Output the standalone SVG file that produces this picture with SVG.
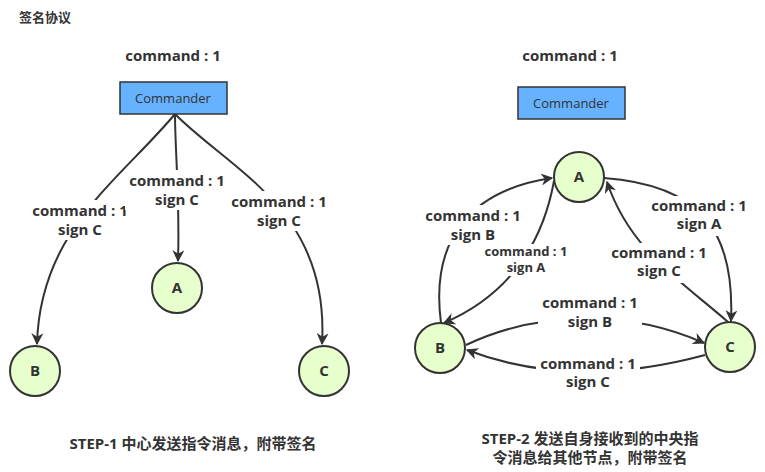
<svg xmlns="http://www.w3.org/2000/svg" width="765" height="472" viewBox="0 0 765 472">
<style>
text{font-family:"Open Sans","Liberation Sans","Noto Sans CJK SC",sans-serif;font-weight:bold;fill:#333;font-size:15px;text-anchor:middle}
.n circle{fill:#e6ffcc;stroke:#333;stroke-width:2}
.box{fill:#66b2ff;stroke:#333;stroke-width:1.5}
.e path{fill:none;stroke:#333;stroke-width:2;marker-end:url(#ar)}
.lb{fill:#fff;stroke:none}
.s{font-size:13px}
</style>
<defs><marker id="ar" viewBox="0 0 10 10" refX="9" refY="5" markerWidth="6" markerHeight="6" orient="auto"><path d="M0,0L10,5L0,10L3,5z" fill="#333"/></marker></defs>
<rect width="765" height="472" fill="#fff"/>
<text x="45" y="22" text-anchor="middle" style="font-size:13px">签名协议</text>
<text x="173" y="61">command : 1</text>
<text x="570" y="61">command : 1</text>
<g class="e">
<path d="M175,114 C120,180 40,230 37,344"/>
<path d="M175,114 C175,150 180,200 178,261"/>
<path d="M175,114 C230,170 330,210 322,344"/>
<path d="M441,323 C430,240 470,190 552,178"/>
<path d="M554,181 C545,230 520,290 444,323"/>
<path d="M604,178 C700,185 735,230 731,321"/>
<path d="M728,322 C680,280 630,250 607,182"/>
<path d="M466,345 C540,310 630,310 704,343"/>
<path d="M705,355 C620,378 540,378 467,350"/>
</g>
<g id="labels">
<rect class="lb" x="28" y="200" width="104" height="40"/>
<text x="80" y="216">command : 1</text><text x="80" y="235">sign C</text>
<rect class="lb" x="125" y="170" width="104" height="40"/>
<text x="177" y="186">command : 1</text><text x="177" y="205">sign C</text>
<rect class="lb" x="227" y="191" width="104" height="40"/>
<text x="279" y="207">command : 1</text><text x="279" y="226">sign C</text>
<rect class="lb" x="421" y="205" width="104" height="40"/>
<text x="473" y="221">command : 1</text><text x="473" y="240">sign B</text>
<rect class="lb" x="480" y="244" width="94" height="32"/>
<text class="s" x="526" y="256">command : 1</text><text class="s" x="526" y="272">sign A</text>
<rect class="lb" x="647" y="196" width="104" height="40"/>
<text x="699" y="211">command : 1</text><text x="699" y="229">sign A</text>
<rect class="lb" x="607" y="243" width="104" height="40"/>
<text x="659" y="258">command : 1</text><text x="659" y="276">sign C</text>
<rect class="lb" x="538" y="293" width="104" height="40"/>
<text x="590" y="308">command : 1</text><text x="590" y="327">sign B</text>
<rect class="lb" x="536" y="354" width="104" height="40"/>
<text x="588" y="369">command : 1</text><text x="588" y="387">sign C</text>
</g>
<g id="commander1"><rect class="box" x="120" y="82" width="107" height="32"/><text x="173" y="103" style="font-weight:normal;font-size:13px">Commander</text></g>
<g id="commander2"><rect class="box" x="518" y="87" width="107" height="32"/><text x="571" y="108" style="font-weight:normal;font-size:13px">Commander</text></g>
<g id="A1" class="n"><circle cx="177" cy="288" r="25"/><text x="177" y="293">A</text></g>
<g id="B1" class="n"><circle cx="35" cy="371" r="25"/><text x="35" y="376">B</text></g>
<g id="C1" class="n"><circle cx="324" cy="371" r="25"/><text x="324" y="376">C</text></g>
<g id="A2" class="n"><circle cx="579" cy="177" r="25"/><text x="579" y="182">A</text></g>
<g id="B2" class="n"><circle cx="440" cy="348" r="25"/><text x="440" y="353">B</text></g>
<g id="C2" class="n"><circle cx="730" cy="347" r="25"/><text x="730" y="352">C</text></g>
<text x="193" y="449">STEP-1 中心发送指令消息，附带签名</text>
<text x="590" y="444">STEP-2 发送自身接收到的中央指</text>
<text x="590" y="463">令消息给其他节点，附带签名</text>
</svg>
